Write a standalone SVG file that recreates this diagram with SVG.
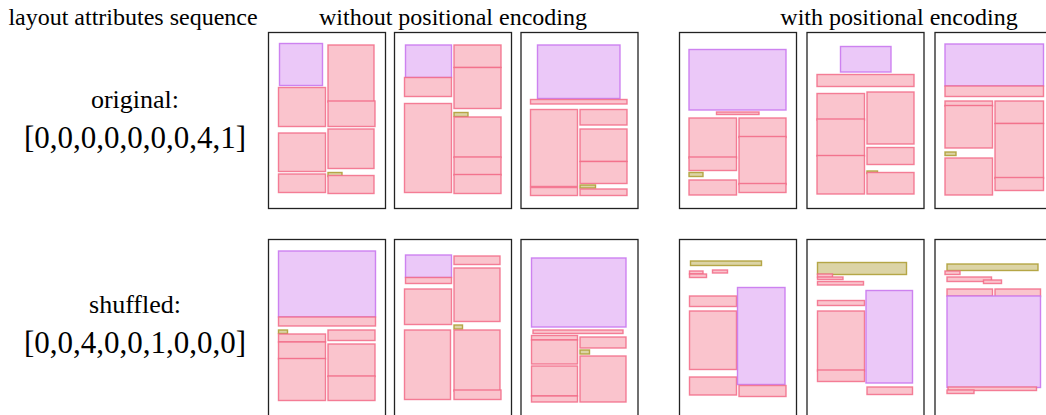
<svg xmlns="http://www.w3.org/2000/svg" width="1046" height="415" viewBox="0 0 1046 415">
<style>
text{font-family:"Liberation Serif","Times New Roman",serif;fill:#000;text-anchor:middle}
.h{font-size:24px}
.l{font-size:26px}
.s{font-size:31px}
.f{fill:#fff;stroke:#222;stroke-width:1.3}
.p{fill:#FAC4CD;stroke:#F26A86;stroke-opacity:0.85;stroke-width:1.4}
.v{fill:#EBC8F8;stroke:#C977EE;stroke-opacity:0.9;stroke-width:1.4}
.o{fill:#DCD4A6;stroke:#AE9E36;stroke-opacity:0.9;stroke-width:1.4}
</style>
<g id="labels">
<text class="h" x="133" y="25">layout attributes sequence</text>
<text class="h" x="453" y="25">without positional encoding</text>
<text class="h" x="899" y="25">with positional encoding</text>
<text class="l" x="135" y="108">original:</text>
<text class="s" x="135" y="148">[0,0,0,0,0,0,0,4,1]</text>
<text class="l" x="135" y="313">shuffled:</text>
<text class="s" x="135" y="353">[0,0,4,0,0,1,0,0,0]</text>
</g>
<g id="top-nopos-1">
<rect class="f" x="268.5" y="32.5" width="117" height="176"/>
<rect class="v" x="279.5" y="43.5" width="43" height="42"/>
<rect class="p" x="328" y="45" width="46" height="57"/>
<rect class="p" x="278.5" y="87.5" width="47" height="39"/>
<rect class="p" x="328" y="101" width="47" height="25.5"/>
<rect class="p" x="278.5" y="133" width="47" height="38.5"/>
<rect class="p" x="328" y="129" width="46" height="39.5"/>
<rect class="o" x="328" y="172.5" width="14" height="4"/>
<rect class="p" x="278.5" y="174" width="47" height="18.5"/>
<rect class="p" x="328" y="175.5" width="46" height="18"/>
</g>
<g id="top-nopos-2">
<rect class="f" x="394.5" y="32.5" width="117" height="176"/>
<rect class="v" x="405.5" y="45" width="46" height="32.5"/>
<rect class="p" x="404.5" y="77.5" width="47" height="19"/>
<rect class="p" x="454" y="45" width="47" height="22.5"/>
<rect class="p" x="454" y="67.5" width="47" height="41"/>
<rect class="p" x="404.5" y="103.5" width="47" height="89"/>
<rect class="o" x="454" y="112.5" width="14" height="4"/>
<rect class="p" x="454" y="117" width="47" height="40.5"/>
<rect class="p" x="454" y="157" width="47" height="18"/>
<rect class="p" x="454" y="174.5" width="47" height="19"/>
</g>
<g id="top-nopos-3">
<rect class="f" x="521" y="32.5" width="117" height="176"/>
<rect class="v" x="537.5" y="45" width="82.5" height="53.5"/>
<rect class="p" x="530.5" y="99.5" width="96.5" height="4.5"/>
<rect class="p" x="530.5" y="109.5" width="47" height="77"/>
<rect class="p" x="530.5" y="187.5" width="47" height="8"/>
<rect class="p" x="580" y="109.5" width="47" height="15.5"/>
<rect class="p" x="580" y="129" width="47" height="32.5"/>
<rect class="p" x="580" y="161.5" width="47" height="22"/>
<rect class="o" x="580" y="185" width="15.5" height="3"/>
<rect class="p" x="580" y="189" width="47" height="6.5"/>
</g>
<g id="top-pos-1">
<rect class="f" x="679.5" y="32.5" width="117" height="176"/>
<rect class="v" x="689" y="49.5" width="97" height="60.5"/>
<rect class="p" x="716.5" y="112" width="42.5" height="2.5"/>
<rect class="p" x="689" y="118" width="47.5" height="40"/>
<rect class="p" x="689" y="157" width="47.5" height="13.5"/>
<rect class="o" x="689" y="172.5" width="14" height="4"/>
<rect class="p" x="689" y="180" width="47.5" height="15"/>
<rect class="p" x="739" y="118" width="47" height="19.5"/>
<rect class="p" x="739" y="136.5" width="47" height="48"/>
<rect class="p" x="739" y="183.5" width="47" height="9"/>
</g>
<g id="top-pos-2">
<rect class="f" x="807" y="32.5" width="117" height="176"/>
<rect class="v" x="840.5" y="46.5" width="50.5" height="25.5"/>
<rect class="p" x="817" y="74.5" width="97" height="12"/>
<rect class="p" x="817" y="93.5" width="47.5" height="26.5"/>
<rect class="p" x="817" y="119" width="47.5" height="37"/>
<rect class="p" x="817" y="155.5" width="47.5" height="38.5"/>
<rect class="p" x="867" y="92" width="47" height="52"/>
<rect class="p" x="867" y="147.5" width="47" height="17"/>
<rect class="o" x="867" y="171" width="10.5" height="2.5"/>
<rect class="p" x="867" y="172.5" width="47" height="21.5"/>
</g>
<g id="top-pos-3">
<rect class="f" x="935" y="32.5" width="117" height="176"/>
<rect class="v" x="945" y="44" width="98.5" height="42"/>
<rect class="p" x="945" y="86" width="98.5" height="10.5"/>
<rect class="p" x="945" y="101" width="47.5" height="5"/>
<rect class="p" x="945" y="105.5" width="47.5" height="42.5"/>
<rect class="o" x="945" y="152" width="11" height="3.5"/>
<rect class="p" x="945" y="158" width="47.5" height="37"/>
<rect class="p" x="995" y="101" width="48.5" height="22.5"/>
<rect class="p" x="995" y="123.5" width="48.5" height="55"/>
<rect class="p" x="995" y="177.5" width="48.5" height="13"/>
</g>
<g id="bottom-nopos-1">
<rect class="f" x="268.5" y="239.5" width="117" height="190"/>
<rect class="v" x="278.5" y="251" width="97" height="66"/>
<rect class="p" x="278.5" y="317" width="97" height="9"/>
<rect class="o" x="278.5" y="330" width="9" height="3.5"/>
<rect class="p" x="278.5" y="334" width="47" height="8"/>
<rect class="p" x="278.5" y="342" width="47" height="17"/>
<rect class="p" x="278.5" y="358.5" width="47" height="42"/>
<rect class="p" x="328" y="330" width="47" height="10.5"/>
<rect class="p" x="328" y="344" width="47" height="32.5"/>
<rect class="p" x="328" y="376" width="47" height="24.5"/>
</g>
<g id="bottom-nopos-2">
<rect class="f" x="394.5" y="239.5" width="117" height="190"/>
<rect class="v" x="405.5" y="255" width="46" height="22.5"/>
<rect class="p" x="405.5" y="277.5" width="46" height="6"/>
<rect class="p" x="454" y="256" width="46" height="8.5"/>
<rect class="p" x="454" y="268" width="46" height="53.5"/>
<rect class="p" x="404.5" y="289" width="47" height="35.5"/>
<rect class="o" x="454" y="325" width="8.5" height="4"/>
<rect class="p" x="404.5" y="330" width="46" height="69.5"/>
<rect class="p" x="454" y="330" width="46" height="61"/>
<rect class="p" x="454" y="390" width="47" height="9.5"/>
</g>
<g id="bottom-nopos-3">
<rect class="f" x="521" y="239.5" width="117" height="190"/>
<rect class="v" x="531.5" y="258" width="94.5" height="69"/>
<rect class="p" x="533" y="330" width="90" height="3.5"/>
<rect class="p" x="531.5" y="335.5" width="46" height="4.5"/>
<rect class="p" x="531.5" y="340" width="46" height="24"/>
<rect class="p" x="531.5" y="366" width="46" height="30"/>
<rect class="p" x="531.5" y="396" width="46" height="6"/>
<rect class="p" x="580" y="337" width="46" height="11"/>
<rect class="o" x="580" y="350" width="9.5" height="4"/>
<rect class="p" x="580" y="356" width="46" height="46"/>
</g>
<g id="bottom-pos-1">
<rect class="f" x="679.5" y="239.5" width="117" height="190"/>
<rect class="o" x="690.5" y="261" width="71" height="4.5"/>
<rect class="p" x="689.5" y="271" width="13.5" height="3"/>
<rect class="p" x="689.5" y="274" width="17" height="3.5"/>
<rect class="p" x="712.5" y="270" width="15" height="3"/>
<rect class="p" x="689.5" y="296" width="47" height="10.5"/>
<rect class="p" x="689.5" y="311" width="47" height="58.5"/>
<rect class="p" x="689.5" y="377" width="47" height="18"/>
<rect class="v" x="737.5" y="287.5" width="47.5" height="97"/>
<rect class="p" x="739" y="385.5" width="47" height="11"/>
</g>
<g id="bottom-pos-2">
<rect class="f" x="807" y="239.5" width="117" height="190"/>
<rect class="o" x="817.5" y="262.5" width="89" height="12"/>
<rect class="p" x="817.5" y="274" width="15" height="3.5"/>
<rect class="p" x="817.5" y="277" width="25.5" height="2.5"/>
<rect class="p" x="817.5" y="281.5" width="46" height="3.5"/>
<rect class="p" x="817.5" y="300.5" width="47" height="5"/>
<rect class="p" x="817.5" y="311" width="47" height="60"/>
<rect class="p" x="817.5" y="370" width="47" height="11.5"/>
<rect class="v" x="866" y="290.5" width="46.5" height="92.5"/>
<rect class="p" x="867" y="387" width="45.5" height="7.5"/>
</g>
<g id="bottom-pos-3">
<rect class="f" x="935" y="239.5" width="117" height="190"/>
<rect class="o" x="947" y="264" width="91" height="6.5"/>
<rect class="p" x="945" y="271" width="15" height="3.5"/>
<rect class="p" x="947" y="277" width="44.5" height="4.5"/>
<rect class="p" x="983.5" y="280" width="18" height="3.5"/>
<rect class="p" x="947" y="289" width="45.5" height="7"/>
<rect class="p" x="995" y="289" width="45.5" height="7.5"/>
<rect class="v" x="947" y="296" width="93.5" height="91.5"/>
<rect class="p" x="948" y="387" width="88.5" height="3.5"/>
<rect class="p" x="947" y="390" width="27" height="3.5"/>
</g>
</svg>
